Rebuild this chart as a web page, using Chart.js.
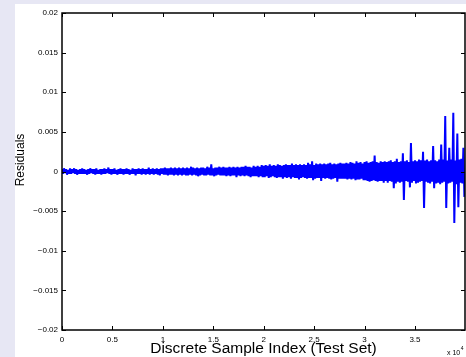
<!DOCTYPE html>
<html>
<head>
<meta charset="utf-8">
<script src="https://cdn.jsdelivr.net/npm/chart.js@4.4.0/dist/chart.umd.min.js"></script>
<style>
  html, body { margin: 0; padding: 0; background: #e7e7f4; }
  canvas { display: block; }
</style>
</head>
<body>
<canvas id="myChart" width="466" height="357"></canvas>
<script>
// tick labels (x in units of 10^4 samples)
const xTicks = [0, 0.5, 1, 1.5, 2, 2.5, 3, 3.5];
const yTicks = [-0.02, -0.015, -0.01, -0.005, 0, 0.005, 0.01, 0.015, 0.02];
const xTitle = 'Discrete Sample Index (Test Set)';
const yTitle = 'Residuals';
const sampleStep = 100;
const lastSample = 39960;
const residualUnit = 1e-4;  // residuals below are in units of 1e-4

// (alternating top / bottom of the band)
const residuals = [
  3,-3,4,-2,3,-4,2,-3,4,-3,3,-2,4,-3,3,-4,2,-3,3,-3,
  4,-3,3,-3,2,-4,3,-3,4,-2,3,-3,3,-4,4,-3,2,-3,3,-4,
  3,-3,4,-3,3,-2,5,-3,3,-4,3,-3,4,-3,2,-4,3,-3,4,-3,
  3,-4,3,-3,4,-3,3,-4,2,-3,4,-3,3,-5,3,-3,4,-3,3,-4,
  4,-3,3,-4,3,-3,5,-4,3,-3,4,-4,3,-3,4,-4,3,-5,4,-3,
  4,-4,5,-4,4,-5,4,-4,5,-4,4,-5,5,-4,4,-5,5,-4,4,-5,
  5,-4,4,-5,5,-5,4,-4,6,-5,5,-4,4,-5,5,-6,4,-5,5,-4,
  5,-5,4,-5,6,-4,5,-5,9,-5,4,-6,5,-5,5,-4,6,-5,5,-5,
  6,-5,5,-6,5,-5,6,-6,5,-5,6,-5,5,-7,6,-5,5,-6,6,-5,
  6,-6,7,-5,6,-6,6,-7,5,-6,7,-6,6,-6,7,-7,6,-6,8,-7,
  7,-7,8,-6,7,-8,9,-7,7,-6,8,-7,7,-8,9,-7,8,-7,7,-9,
  8,-7,9,-8,8,-7,8,-9,10,-7,8,-8,9,-8,8,-10,9,-8,8,-7,
  9,-8,8,-9,11,-8,9,-8,13,-11,8,-9,10,-8,9,-8,10,-12,9,-8,
  10,-9,9,-8,10,-9,11,-10,9,-9,10,-8,9,-13,10,-9,11,-9,10,-9,
  10,-9,11,-10,10,-9,12,-10,11,-9,10,-11,13,-10,11,-10,12,-9,10,-11,
  12,-11,13,-12,11,-13,12,-12,13,-11,20,-12,12,-13,11,-12,13,-12,12,-14,
  13,-12,12,-14,13,-12,14,-13,12,-21,13,-15,16,-13,12,-14,13,-13,23,-36,
  13,-12,14,-13,12,-20,36,-14,13,-12,14,-15,13,-14,15,-13,14,-12,25,-46,
  14,-13,15,-14,13,-15,14,-13,32,-21,14,-15,13,-14,15,-16,34,-14,15,-13,
  70,-46,14,-15,30,-14,15,-13,74,-65,14,-16,48,-45,15,-14,16,-15,30,-32
];

const fontFamily = '"Liberation Sans", Arial, sans-serif';

const fmtY = v => v === 0 ? '0' : (v < 0 ? '\u2212' : '') + Math.abs(v);

// lavender page strip, white figure, matlab style box with inward ticks
const figureFrame = {
  id: 'figureFrame',
  beforeDraw(chart) {
    const ctx = chart.ctx;
    ctx.save();
    ctx.fillStyle = '#e7e7f4';
    ctx.fillRect(0, 0, chart.width, chart.height);
    ctx.fillStyle = '#ffffff';
    ctx.fillRect(15, 4, chart.width - 15, chart.height - 4);
    ctx.restore();
  },
  afterDraw(chart) {
    const { ctx, chartArea: a, scales: { x, y } } = chart;
    ctx.save();
    ctx.strokeStyle = '#000';
    ctx.lineWidth = 1;
    ctx.beginPath();
    x.ticks.forEach(t => {
      const px = Math.round(x.getPixelForValue(t.value)) + 0.5;
      ctx.moveTo(px, a.bottom); ctx.lineTo(px, a.bottom - 4);
      ctx.moveTo(px, a.top); ctx.lineTo(px, a.top + 4);
    });
    y.ticks.forEach(t => {
      const py = Math.round(y.getPixelForValue(t.value)) + 0.5;
      ctx.moveTo(a.left, py); ctx.lineTo(a.left + 4, py);
      ctx.moveTo(a.right, py); ctx.lineTo(a.right - 4, py);
    });
    ctx.stroke();
    ctx.lineWidth = 1.5;
    ctx.strokeRect(a.left, a.top, a.right - a.left, a.bottom - a.top);

    // y axis title
    ctx.fillStyle = '#000';
    ctx.translate(21, 160);
    ctx.rotate(-Math.PI / 2);
    ctx.font = '12px ' + fontFamily;
    ctx.textAlign = 'center';
    ctx.textBaseline = 'middle';
    ctx.fillText(yTitle, 0, 0);
    ctx.setTransform(1, 0, 0, 1, 0, 0);

    // x 10^4 multiplier
    ctx.textAlign = 'left';
    ctx.textBaseline = 'alphabetic';
    ctx.font = '7px ' + fontFamily;
    ctx.fillText('x 10', 447, 355);
    const w = ctx.measureText('x 10').width;
    ctx.font = '5px ' + fontFamily;
    ctx.fillText('4', 447 + w + 0.5, 350);
    ctx.restore();
  }
};

const ctx = document.getElementById('myChart');
const myChart = new Chart(ctx, {
  type: 'line',
  data: {
    datasets: [{
      data: residuals.map((r, i) => ({ x: i * sampleStep, y: r * residualUnit })),
      borderColor: '#0000ff',
      borderWidth: 2,
      borderJoinStyle: 'bevel',
      pointRadius: 0,
      tension: 0,
      fill: false
    }]
  },
  options: {
    responsive: false,
    animation: false,
    events: [],
    layout: { padding: { top: 13, right: 1, left: 0, bottom: 0 } },
    plugins: { legend: { display: false }, tooltip: { enabled: false } },
    scales: {
      x: {
        type: 'linear',
        min: 0,
        max: lastSample,
        afterFit: s => { s.height = 27; },
        afterBuildTicks: s => { s.ticks = xTicks.map(v => ({ value: v * 1e4 })); },
        grid: { display: false, drawTicks: false },
        border: { display: false },
        ticks: {
          padding: 5,
          maxRotation: 0,
          autoSkip: false,
          color: '#000',
          font: { family: fontFamily, size: 8 },
          callback: v => String(v / 1e4)
        },
        title: {
          display: true,
          text: xTitle,
          color: '#000',
          font: { family: fontFamily, size: 15.5, lineHeight: 1 },
          padding: { top: 0, bottom: 1 }
        }
      },
      y: {
        type: 'linear',
        min: -0.02,
        max: 0.02,
        afterFit: s => { s.width = 62; },
        afterBuildTicks: s => { s.ticks = yTicks.map(v => ({ value: v })); },
        grid: { display: false, drawTicks: false },
        border: { display: false },
        ticks: {
          padding: 4,
          autoSkip: false,
          color: '#000',
          font: { family: fontFamily, size: 8 },
          callback: v => fmtY(v)
        }
      }
    }
  },
  plugins: [figureFrame]
});
</script>
</body>
</html>
